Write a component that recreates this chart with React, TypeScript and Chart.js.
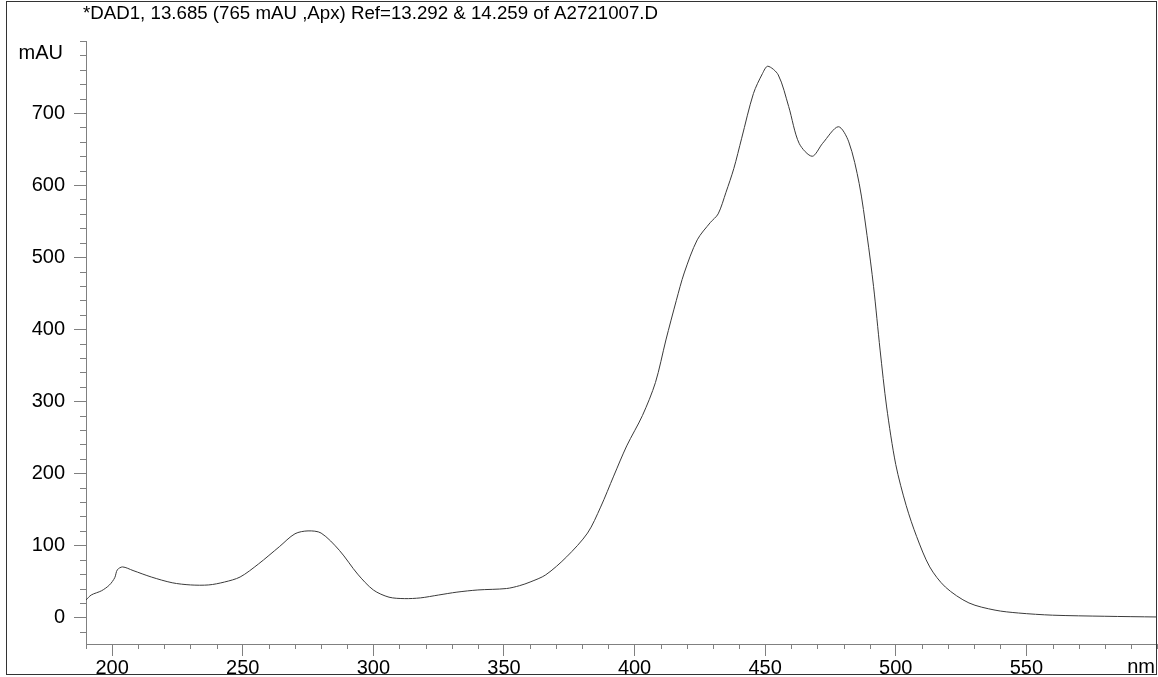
import React, { useEffect, useRef } from 'react';
import { Chart, registerables } from 'chart.js';

Chart.register(...registerables);

// ---- data ----
const wavelengths = [
  190, 192, 196, 199, 201, 202, 204, 208, 215, 223, 230, 237, 243, 249, 256, 264, 270, 275, 280, 287,
  294, 300, 306, 312, 318, 325, 332, 340, 351, 356, 360, 366, 374, 382, 387, 392, 397, 403, 408, 412,
  416, 419, 424, 429, 432, 435, 438, 441, 445.5, 449, 451, 455, 459, 463, 468, 472, 478, 482, 486, 489,
  491.5, 494, 496.5, 500, 504, 508, 513, 519, 528, 538, 547, 560, 580, 600,
];
const absorbance = [
  24, 31, 37, 45, 55, 66, 70, 65, 56, 48, 45, 45, 49, 56, 74, 98, 116, 120, 117, 93,
  60, 38, 28, 26, 27, 31, 35, 38, 40, 44, 49, 59, 84, 117, 153, 196, 238, 280, 326, 385,
  440, 478, 524, 548, 560, 590, 623, 665, 727, 755, 765, 753, 709, 658, 640, 658, 681, 660, 602, 530,
  459, 371, 292, 212, 155, 112, 70, 42, 20, 10, 6, 3, 1.5, 0.5,
];
const xMajorTicks = [200, 250, 300, 350, 400, 450, 500, 550];
const yMajorTicks = [0, 100, 200, 300, 400, 500, 600, 700];
const titleText = '*DAD1, 13.685 (765 mAU ,Apx) Ref=13.292 & 14.259 of A2721007.D';
const yUnit = 'mAU';
const xUnit = 'nm';

const FONT = '"Liberation Sans", Arial, sans-serif';
const AXIS_COLOR = '#808080';

const decorPlugin = {
  id: 'decor',
  afterDraw(chart: any) {
    const ctx = chart.ctx;
    const xs = chart.scales.x;
    const ys = chart.scales.y;
    const area = chart.chartArea;
    ctx.save();
    // minor ticks
    ctx.strokeStyle = AXIS_COLOR;
    ctx.lineWidth = 1;
    ctx.beginPath();
    for (let v = 190; v <= 600; v += 10) {
      if (v % 50 === 0 && v < 600) continue;
      const px = Math.round(xs.getPixelForValue(v)) + 0.5;
      ctx.moveTo(px, area.bottom);
      ctx.lineTo(px, area.bottom + 5);
    }
    for (let v = -20; v <= 800; v += 20) {
      if (v % 100 === 0 && v >= 0 && v <= 700) continue;
      const py = Math.round(ys.getPixelForValue(v)) + 0.5;
      ctx.moveTo(area.left - 6, py);
      ctx.lineTo(area.left, py);
    }
    ctx.stroke();

    // outer frame
    ctx.strokeStyle = '#333333';
    ctx.strokeRect(6.5, 1.5, 1150, 673);

    // texts
    ctx.fillStyle = '#000000';
    ctx.font = '18.7px ' + FONT;
    ctx.textAlign = 'left';
    ctx.textBaseline = 'alphabetic';
    ctx.fillText(titleText, 83, 19);

    ctx.font = '20px ' + FONT;
    ctx.textAlign = 'right';
    ctx.textBaseline = 'middle';
    ctx.fillText(yUnit, 63, 53);

    ctx.textBaseline = 'alphabetic';
    ctx.fillText(xUnit, 1155, 673);
    ctx.restore();
  },
};

export default function App() {
  const canvasRef = useRef<HTMLCanvasElement | null>(null);

  useEffect(() => {
    if (!canvasRef.current) return;
    const points = wavelengths.map((w, i) => ({ x: w, y: absorbance[i] }));
    const chart = new Chart(canvasRef.current, {
      type: 'line',
      data: {
        datasets: [
          {
            data: points,
            borderColor: '#3a3a3a',
            borderWidth: 1,
            pointRadius: 0,
            tension: 0.3,
            fill: false,
          },
        ],
      },
      options: {
        animation: false,
        responsive: false,
        maintainAspectRatio: false,
        layout: { padding: { top: 41, right: 1, left: 0, bottom: 0 } },
        plugins: {
          legend: { display: false },
          tooltip: { enabled: false },
          title: { display: false },
        },
        scales: {
          x: {
            type: 'linear',
            min: 190,
            max: 600,
            afterFit: (s: any) => {
              s.height = 33;
            },
            afterBuildTicks: (s: any) => {
              s.ticks = xMajorTicks.map((v) => ({ value: v }));
            },
            grid: {
              drawOnChartArea: false,
              drawTicks: true,
              tickLength: 12,
              color: AXIS_COLOR,
            },
            border: { display: true, color: AXIS_COLOR, width: 1 },
            ticks: {
              autoSkip: false,
              maxRotation: 0,
              padding: 0,
              color: '#000000',
              font: { family: FONT, size: 20 },
            },
          },
          y: {
            type: 'linear',
            min: -37,
            max: 800,
            afterFit: (s: any) => {
              s.width = 86;
            },
            afterBuildTicks: (s: any) => {
              s.ticks = yMajorTicks.map((v) => ({ value: v }));
            },
            grid: {
              drawOnChartArea: false,
              drawTicks: true,
              tickLength: 12,
              color: AXIS_COLOR,
            },
            border: { display: true, color: AXIS_COLOR, width: 1 },
            ticks: {
              autoSkip: false,
              padding: 9,
              color: '#000000',
              font: { family: FONT, size: 20 },
            },
          },
        },
      },
      plugins: [decorPlugin],
    });
    return () => chart.destroy();
  }, []);

  return (
    <div style={{ position: 'fixed', left: 0, top: 0, width: 1158, height: 677, background: '#ffffff' }}>
      <canvas ref={canvasRef} width={1158} height={677} style={{ display: 'block', width: 1158, height: 677 }} />
    </div>
  );
}
